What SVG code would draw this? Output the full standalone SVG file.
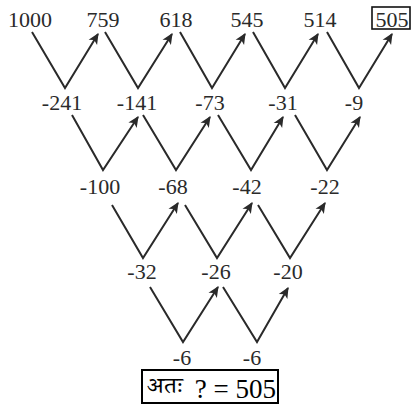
<svg xmlns="http://www.w3.org/2000/svg" width="412" height="404" viewBox="0 0 412 404">
<defs>
<style>
.t{font-family:"Liberation Serif","Times New Roman",serif;font-size:22px;fill:#2a2a2a;text-anchor:middle}
.c{fill:none;stroke:#2a2a2a;stroke-width:2;stroke-linejoin:miter;marker-end:url(#ah)}
.b{fill:none;stroke:#111;stroke-width:1.6}
</style>
<marker id="ah" viewBox="0 0 10 10" refX="9" refY="5" markerWidth="11" markerHeight="11" markerUnits="userSpaceOnUse" orient="auto">
<path d="M0,0.5 L10,5 L0,9.5 L2.5,5 z" fill="#2a2a2a"/>
</marker>
</defs>
<rect width="412" height="404" fill="#fff"/>
<g id="connectors">
<polyline class="c" points="32,32 65,88 98,34"/>
<polyline class="c" points="105,32 138,88 172,34"/>
<polyline class="c" points="180,32 212,88 245,34"/>
<polyline class="c" points="253,32 285,88 318,34"/>
<polyline class="c" points="327,32 359,88 392,34"/>
<polyline class="c" points="72,115 103,170 138,117"/>
<polyline class="c" points="143,115 176,170 210,117"/>
<polyline class="c" points="218,115 251,170 283,117"/>
<polyline class="c" points="295,115 327,170 360,117"/>
<polyline class="c" points="112,205 143,258 178,203"/>
<polyline class="c" points="185,205 217,258 252,203"/>
<polyline class="c" points="258,205 290,258 325,203"/>
<polyline class="c" points="150,287 183,342 218,287"/>
<polyline class="c" points="223,287 257,342 288,288"/>
</g>
<g id="n1000"><text class="t" x="30" y="27">1000</text></g>
<g id="n759"><text class="t" x="103" y="27">759</text></g>
<g id="n618"><text class="t" x="176" y="27">618</text></g>
<g id="n545"><text class="t" x="247" y="27">545</text></g>
<g id="n514"><text class="t" x="320" y="27">514</text></g>
<g id="n505"><rect class="b" x="372" y="7" width="38" height="22"/><text class="t" x="392" y="27">505</text></g>
<g id="n-241"><text class="t" x="62" y="110">-241</text></g>
<g id="n-141"><text class="t" x="137" y="110">-141</text></g>
<g id="n-73"><text class="t" x="210" y="110">-73</text></g>
<g id="n-31"><text class="t" x="283" y="110">-31</text></g>
<g id="n-9"><text class="t" x="354" y="110">-9</text></g>
<g id="n-100"><text class="t" x="100" y="194">-100</text></g>
<g id="n-68"><text class="t" x="173" y="194">-68</text></g>
<g id="n-42"><text class="t" x="247" y="194">-42</text></g>
<g id="n-22"><text class="t" x="325" y="194">-22</text></g>
<g id="n-32"><text class="t" x="142" y="279">-32</text></g>
<g id="n-26"><text class="t" x="216" y="279">-26</text></g>
<g id="n-20"><text class="t" x="288" y="279">-20</text></g>
<g id="n-6a"><text class="t" x="182" y="365">-6</text></g>
<g id="n-6b"><text class="t" x="252" y="365">-6</text></g>
<g id="answer">
<rect x="142" y="370" width="136" height="33" fill="none" stroke="#000" stroke-width="2"/>
<text x="147" y="393" textLength="36" lengthAdjust="spacingAndGlyphs" style="font-family:'Noto Serif Devanagari','Noto Sans Devanagari','Lohit Devanagari',serif;font-size:22px;fill:#000">अतः</text>
<text x="276" y="398" style="font-family:'Liberation Serif','Times New Roman',serif;font-size:27px;fill:#000;text-anchor:end">? = 505</text>
</g>
</svg>
